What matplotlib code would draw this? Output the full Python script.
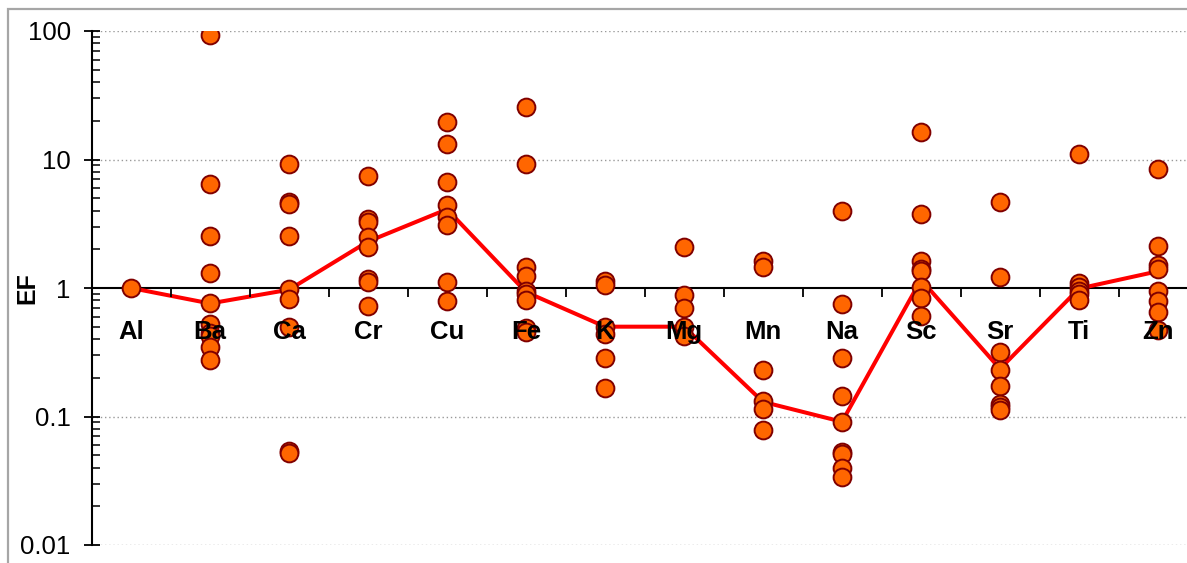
import matplotlib
matplotlib.use("Agg")
import matplotlib.pyplot as plt
from matplotlib.patches import Rectangle
from matplotlib.ticker import FixedLocator, LogLocator, NullFormatter

plt.rcParams["font.family"] = ["Liberation Sans", "DejaVu Sans"]

elements = ["Al", "Ba", "Ca", "Cr", "Cu", "Fe", "K", "Mg", "Mn", "Na", "Sc", "Sr", "Ti", "Zn"]

# enrichment factors for each sample, grouped by element
ef_samples = {
    "Al": [1.0],
    "Ba": [92.6, 6.48, 2.56, 1.30, 0.758, 0.52, 0.45, 0.42, 0.345, 0.276],
    "Ca": [9.29, 4.69, 4.49, 2.56, 0.98, 0.82, 0.50, 0.054, 0.052],
    "Cr": [7.5, 3.42, 3.25, 2.48, 2.07, 1.17, 1.11, 0.72],
    "Cu": [19.7, 13.3, 6.73, 4.43, 3.58, 3.09, 1.12, 0.79],
    "Fe": [25.5, 9.29, 1.45, 1.25, 0.955, 0.90, 0.81, 0.486, 0.456],
    "K":  [1.14, 1.05, 0.50, 0.44, 0.286, 0.168],
    "Mg": [2.07, 0.88, 0.70, 0.50, 0.42],
    "Mn": [1.62, 1.45, 0.232, 0.132, 0.114, 0.0785],
    "Na": [3.94, 0.753, 0.286, 0.144, 0.091, 0.0527, 0.0515, 0.040, 0.034],
    "Sc": [16.5, 3.79, 1.63, 1.41, 1.35, 1.02, 0.84, 0.61],
    "Sr": [4.69, 1.21, 0.32, 0.232, 0.173, 0.126, 0.118, 0.112],
    "Ti": [11.0, 1.09, 1.02, 0.955, 0.90, 0.81],
    "Zn": [8.38, 2.14, 1.52, 1.41, 0.94, 0.79, 0.65, 0.47],
}

# median enrichment factor per element (red line)
ef_median = [1.0, 0.758, 0.97, 2.3, 4.1, 0.93, 0.50, 0.50, 0.130, 0.091, 1.16, 0.235, 0.99, 1.35]

W, H = 1187, 563
fig = plt.figure(figsize=(W / 100, H / 100), dpi=100)
ax = fig.add_axes([91.5 / W, 18 / H, 1106 / W, 514 / H])

ax.plot(range(len(elements)), ef_median, color="#FF0000", lw=2.9, zorder=2)
for i, el in enumerate(elements):
    vals = ef_samples[el]
    ax.plot([i] * len(vals), vals, ls="none", marker="o", ms=12.8,
            mfc="#FF6600", mec="#800000", mew=1.4, zorder=2.2)

ax.set_yscale("log")
ax.set_ylim(0.01, 100)
ax.set_xlim(-0.5, len(elements) - 0.5)

# dotted grid at decades, category axis crosses at 1
for v in [0.01, 0.1, 10, 100]:
    ax.axhline(v, color="#999999", lw=1.0, ls=(0, (1, 2)), zorder=0.5)

for side in ["top", "right"]:
    ax.spines[side].set_visible(False)
ax.spines["bottom"].set_position(("data", 1))
ax.spines["bottom"].set_linewidth(1.5)
ax.spines["bottom"].set_zorder(1.5)
ax.spines["left"].set_linewidth(1.5)
ax.xaxis.set_zorder(3)

ax.yaxis.set_major_locator(FixedLocator([0.01, 0.1, 1, 10, 100]))
ax.yaxis.set_minor_locator(LogLocator(base=10, subs=range(2, 10)))
ax.yaxis.set_minor_formatter(NullFormatter())
ax.set_yticklabels(["0.01", "0.1", "1", "10", "100"])
ax.tick_params(axis="y", which="major", direction="inout", length=12, width=1.3,
               labelsize=18.5, pad=9)
ax.tick_params(axis="y", which="minor", direction="in", length=5.5, width=1.1)

ax.set_xticks([k + 0.5 for k in range(len(elements) - 1)])
ax.set_xticklabels([])
ax.set_xticks(range(len(elements)), labels=elements, minor=True)
ax.tick_params(axis="x", which="major", direction="out", length=6.5, width=1.3)
ax.tick_params(axis="x", which="minor", length=0, pad=23, labelsize=18.5)
for lab in ax.get_xticklabels(minor=True):
    lab.set_fontweight("bold")

ax.set_ylabel("EF", fontsize=18, fontweight="bold")
ax.yaxis.set_label_coords(-0.047, 0.5)

fig.add_artist(Rectangle((8 / W, -0.2), 1.2, 0.2 + (H - 9) / H, transform=fig.transFigure,
                         fill=False, ec="#A6A6A6", lw=1.6))

fig.savefig("out.png", dpi=100)
